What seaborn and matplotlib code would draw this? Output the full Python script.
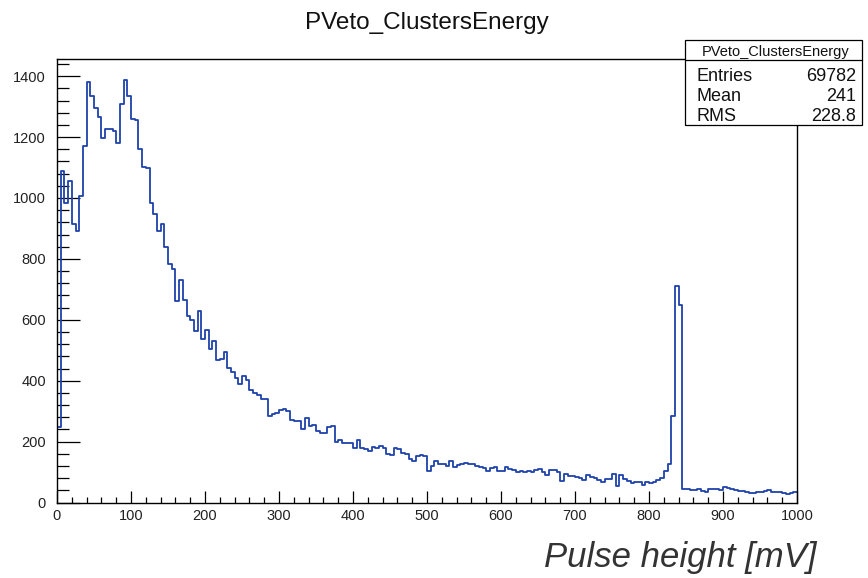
import numpy as np
import pandas as pd
import matplotlib
matplotlib.use("Agg")
import matplotlib.pyplot as plt
from matplotlib.patches import Rectangle
from matplotlib.lines import Line2D
from matplotlib.ticker import MultipleLocator
import seaborn as sns

# ---------------- data ----------------
title = "PVeto_ClustersEnergy"
x_label = "Pulse height [mV]"
bin_width = 5
x_range = (0, 1000)
counts = [
    248, 1089, 985, 1056, 914, 892, 1005, 1171, 1380, 1334,
    1296, 1267, 1198, 1227, 1225, 1220, 1182, 1307, 1387, 1334,
    1258, 1255, 1160, 1102, 1100, 985, 947, 892, 915, 840,
    783, 767, 663, 729, 665, 614, 598, 562, 630, 538,
    567, 505, 529, 467, 472, 494, 443, 428, 410, 388,
    414, 403, 368, 360, 352, 341, 341, 283, 290, 294,
    303, 308, 300, 270, 268, 268, 240, 279, 250, 254,
    234, 228, 228, 248, 250, 199, 205, 194, 194, 194,
    178, 205, 180, 175, 168, 182, 178, 185, 180, 160,
    155, 180, 176, 162, 158, 142, 136, 152, 156, 152,
    104, 119, 136, 128, 125, 120, 135, 118, 122, 125,
    130, 125, 128, 120, 116, 114, 104, 114, 118, 104,
    104, 115, 110, 106, 100, 104, 100, 104, 100, 106,
    110, 100, 90, 108, 106, 99, 70, 94, 87, 86,
    83, 80, 74, 90, 83, 82, 74, 68, 76, 76,
    94, 54, 90, 76, 72, 65, 68, 68, 57, 68,
    63, 68, 74, 79, 104, 126, 284, 710, 647, 45,
    44, 42, 40, 45, 38, 36, 44, 43, 43, 40,
    50, 47, 45, 40, 39, 38, 33, 32, 32, 33,
    34, 38, 40, 35, 35, 35, 31, 29, 32, 36,
]
x_ticks = [0, 100, 200, 300, 400, 500, 600, 700, 800, 900, 1000]
y_ticks = [0, 200, 400, 600, 800, 1000, 1200, 1400]
stats_labels = ["Entries", "Mean", "RMS"]
stats_values = ["69782", "241", "228.8"]

edges = np.arange(x_range[0], x_range[1] + bin_width, bin_width)
centers = edges[:-1] + bin_width / 2
df = pd.DataFrame({"x": centers, "w": counts})

# ---------------- style ----------------
sns.set_theme(style="white")
plt.rcParams["font.family"] = ["Liberation Sans", "DejaVu Sans"]

W, H = 868, 578
fig = plt.figure(figsize=(W / 100, H / 100), dpi=100)
fig.patch.set_facecolor("white")


def fx(px):
    return px / W


def fy(py):
    return 1 - py / H


left, right, top, bottom = 57, 797, 59, 502.5
ax = fig.add_axes([fx(left), fy(bottom), fx(right - left), (bottom - top) / H])

sns.histplot(data=df, x="x", weights="w", binwidth=bin_width, binrange=x_range,
             element="step", fill=False, color="#1f42ad", linewidth=1.3, ax=ax)

ax.set_xlim(*x_range)
ax.set_ylim(0, 1.05 * max(counts))
ax.set_xlabel("")
ax.set_ylabel("")
ax.set_xticks(x_ticks)
ax.set_yticks(y_ticks)
ax.xaxis.set_minor_locator(MultipleLocator(20))
ax.yaxis.set_minor_locator(MultipleLocator(40))

for s in ax.spines.values():
    s.set_color("black")
    s.set_linewidth(1.0)

ax.tick_params(axis="x", which="major", direction="in", length=8.6, width=0.9,
               color="black", labelsize=10.5, pad=5, labelcolor="#222222",
               bottom=True, top=False)
ax.tick_params(axis="x", which="minor", direction="in", length=4.3, width=0.9,
               color="black", bottom=True, top=False)
ax.tick_params(axis="y", which="major", direction="in", length=16.5, width=0.9,
               color="black", labelsize=10.5, pad=8, labelcolor="#222222",
               left=True, right=False)
ax.tick_params(axis="y", which="minor", direction="in", length=8.6, width=0.9,
               color="black", left=True, right=False)

# title
fig.text(fx(427), fy(29.3), title, ha="center", va="baseline", fontsize=17.5,
         color="#111111")

# stats box
bx0, bx1, by0, by1 = 685, 862, 40, 125
rect = Rectangle((fx(bx0), fy(by1)), fx(bx1 - bx0), (by1 - by0) / H,
                 transform=fig.transFigure, facecolor="white",
                 edgecolor="black", linewidth=0.9, zorder=10)
fig.add_artist(rect)
sep = Line2D([fx(bx0), fx(bx1)], [fy(60), fy(60)], transform=fig.transFigure,
             color="black", linewidth=0.9, zorder=11)
fig.add_artist(sep)
fig.text(fx(776), fy(55.7), title, ha="center", va="baseline", fontsize=10.5,
         color="#111111", zorder=12)
for i, (lab, val) in enumerate(zip(stats_labels, stats_values)):
    yb = [80.7, 101.0, 121.0][i]
    fig.text(fx(696), fy(yb), lab, ha="left", va="baseline", fontsize=13,
             color="#111111", zorder=12)
    fig.text(fx(856), fy(yb), val, ha="right", va="baseline", fontsize=13,
             color="#111111", zorder=12)

# axis label (italic)
fig.text(fx(816), fy(566.7), x_label, ha="right", va="baseline", fontsize=25,
         style="italic", color="#333333")

fig.savefig("out.png", dpi=100)
